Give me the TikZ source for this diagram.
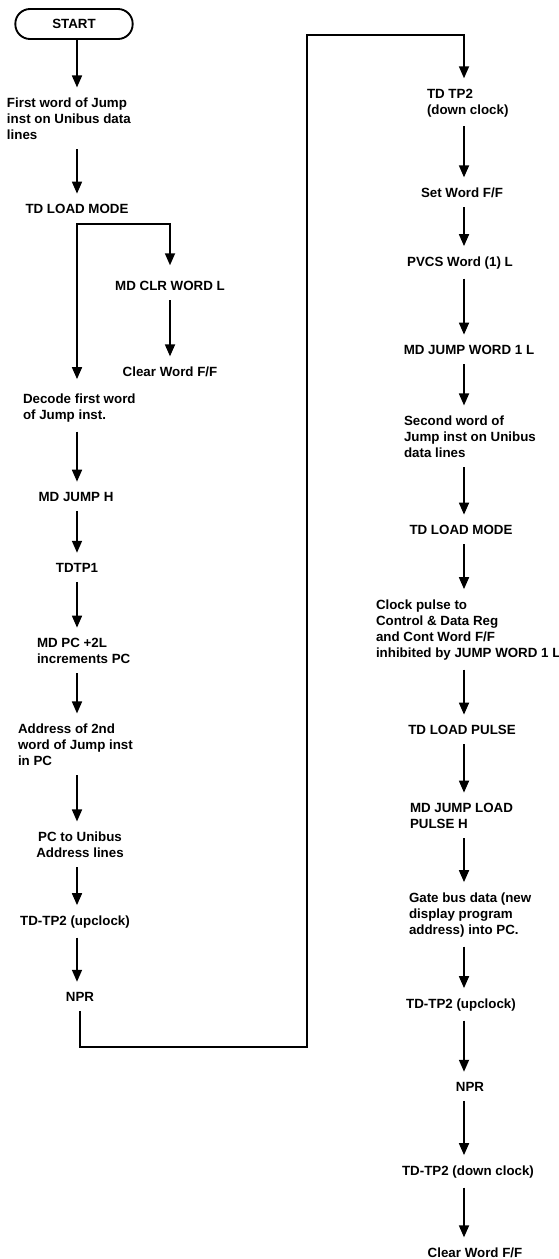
\documentclass[tikz,border=0pt]{standalone}
\usepackage{fontspec}
\setmainfont{Liberation Sans}
\usetikzlibrary{arrows.meta}

\tikzset{
	txt/.style = {font=\bfseries, inner sep=0pt, outer sep=0pt},
	para/.style = {txt, align=left, anchor=west},
	startbox/.style = {txt, draw, line width=1.4pt, rounded corners=11pt,
		minimum width=88pt, minimum height=22.5pt},
	flow/.style = {line width=1.3pt, ->, shorten <=7pt, shorten >=8pt}
}

\begin{document}
\begin{tikzpicture}[x=0.75pt, y=-0.75pt, >={Triangle[length=9pt,width=7.5pt]}]
	\useasboundingbox (0,0) rectangle (558,1259);
	
	% column axes
	\coordinate (colL) at (77,0);
	\coordinate (colR) at (464,0);
	
	% first column
	\node[startbox] (start) at (74,24) {START};
	\node[para] (first) at (7,119) {First word of Jump\\inst on Unibus data\\lines};
	\node[txt] (tdload1) at (77,209) {TD LOAD MODE};
	\node[txt] (mdclr) at (170,286) {MD CLR WORD L};
	\node[txt] (clrff1) at (170,372) {Clear Word F/F};
	\node[para] (decode) at (23,408) {Decode first word\\of Jump inst.};
	\node[txt] (mdjump) at (76,497) {MD JUMP H};
	\node[txt] (tdtp1) at (77,568) {TDTP1};
	\node[para] (mdpc) at (37,651) {MD PC +2L\\increments PC};
	\node[para] (addr) at (18,745) {Address of 2nd\\word of Jump inst\\in PC};
	\node[txt, align=center] (pcuni) at (80,845) {PC to Unibus\\Address lines};
	\node[txt] (tdup1) at (75,922) {TD-TP2 (upclock)};
	\node[txt] (npr1) at (80,997) {NPR};
	
	% second column
	\node[para] (tdtp2) at (427,103) {TD TP2\\(down clock)};
	\node[txt] (setff) at (462,193) {Set Word F/F};
	\node[txt] (pvcs) at (460,263) {PVCS Word (1) L};
	\node[txt] (mdjw) at (469,350) {MD JUMP WORD 1 L};
	\node[para] (second) at (404,437) {Second word of\\Jump inst on Unibus\\data lines};
	\node[txt] (tdload2) at (461,530) {TD LOAD MODE};
	\node[para] (clock) at (376,630) {Clock pulse to\\Control \& Data Reg\\and Cont Word F/F\\inhibited by JUMP WORD 1 L};
	\node[txt] (tdpulse) at (462,730) {TD LOAD PULSE};
	\node[para] (mdjlp) at (410,816) {MD JUMP LOAD\\PULSE H};
	\node[para] (gate) at (409,915) {Gate bus data (new\\display program\\address) into PC.};
	\node[txt] (tdup2) at (461,1005) {TD-TP2 (upclock)};
	\node[txt] (npr2) at (470,1087) {NPR};
	\node[txt] (tddown) at (468,1172) {TD-TP2 (down clock)};
	\node[txt] (clrff2) at (475,1253) {Clear Word F/F};
	
	% arrows
	\draw[flow, shorten <=0pt] (start.south -| colL) -- (first.north -| colL);
	\foreach \a/\b in {first/tdload1, decode/mdjump, mdjump/tdtp1, tdtp1/mdpc,
		mdpc/addr, addr/pcuni, pcuni/tdup1, tdup1/npr1} {
		\draw[flow] (\a.south -| colL) -- (\b.north -| colL);
	}
	\draw[flow] (mdclr) -- (clrff1);
	
	% split below TD LOAD MODE
	\coordinate (split) at (77,224);
	\draw[flow, <->, shorten <=11pt, shorten >=12pt] (decode.north -| colL) -- (split) -| (mdclr.north);
	
	% over to the second column
	\coordinate (loopbot) at (307,1047);
	\coordinate (looptop) at (307,35);
	\draw[flow] (npr1.south) |- (loopbot) -- (looptop) -| (tdtp2.north -| colR);
	
	\foreach \a/\b in {tdtp2/setff, setff/pvcs, pvcs/mdjw, mdjw/second, second/tdload2,
		tdload2/clock, clock/tdpulse, tdpulse/mdjlp, mdjlp/gate, gate/tdup2,
		tdup2/npr2, npr2/tddown, tddown/clrff2} {
		\draw[flow] (\a.south -| colR) -- (\b.north -| colR);
	}
\end{tikzpicture}
\end{document}
